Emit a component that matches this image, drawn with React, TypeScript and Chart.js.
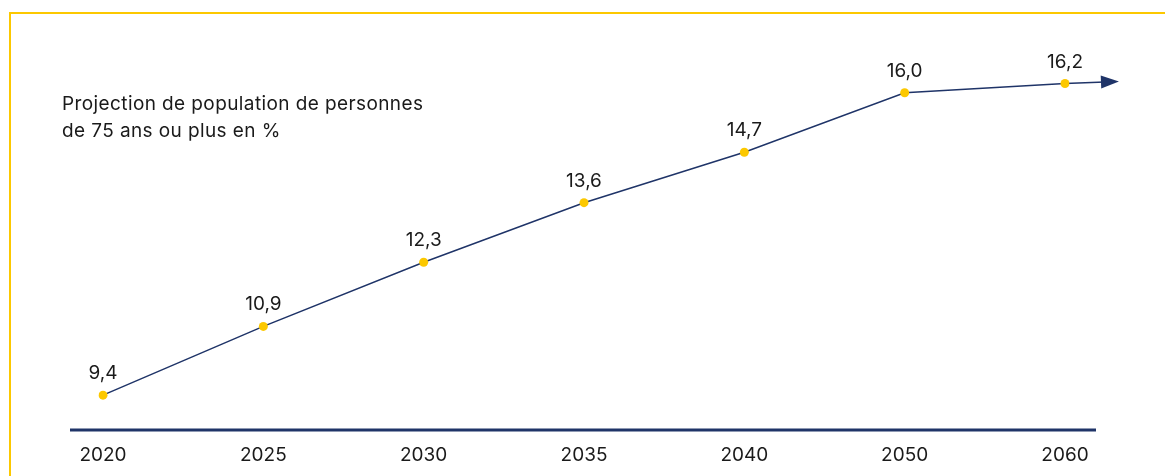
import React, { useEffect, useRef } from "react";
import { Chart, registerables } from "chart.js";

Chart.register(...registerables);

const years: string[] = ["2020", "2025", "2030", "2035", "2040", "2050", "2060"];
const shares: number[] = [9.4, 10.9, 12.3, 13.6, 14.7, 16.0, 16.2];
const titleLines: string[] = [
  "Projection de population de personnes",
  "de 75 ans ou plus en %",
];

const NAVY = "#1f3468";
const YELLOW = "#fcc800";
const TEXT = "#1a1a1a";
const FONT = "Inter, 'Noto Sans', sans-serif";

const fmt = (v: number) => v.toFixed(1).replace(".", ",");

const baselinePlugin = {
  id: "baseline",
  beforeDatasetsDraw(chart: any) {
    const { ctx, chartArea } = chart;
    ctx.save();
    ctx.strokeStyle = NAVY;
    ctx.lineWidth = 3;
    ctx.beginPath();
    ctx.moveTo(chartArea.left - 33, chartArea.bottom);
    ctx.lineTo(chartArea.right + 31, chartArea.bottom);
    ctx.stroke();

    // arrow shaft continuing the last segment
    const pts = chart.getDatasetMeta(0).data;
    const a = pts[pts.length - 2];
    const b = pts[pts.length - 1];
    const dx = b.x - a.x;
    const dy = (b.y - a.y) * 0.7;
    const len = Math.hypot(dx, dy);
    const ux = dx / len;
    const uy = dy / len;
    ctx.strokeStyle = NAVY;
    ctx.lineWidth = 1.5;
    ctx.beginPath();
    ctx.moveTo(b.x, b.y);
    ctx.lineTo(b.x + ux * 40, b.y + uy * 40);
    ctx.stroke();
    const tipX = b.x + ux * 54;
    const tipY = b.y + uy * 54;
    const baseX = b.x + ux * 36;
    const baseY = b.y + uy * 36;
    const px = -uy;
    const py = ux;
    ctx.fillStyle = NAVY;
    ctx.beginPath();
    ctx.moveTo(tipX, tipY);
    ctx.lineTo(baseX + px * 6.5, baseY + py * 6.5);
    ctx.lineTo(baseX - px * 6.5, baseY - py * 6.5);
    ctx.closePath();
    ctx.fill();
    ctx.restore();
  },
};

const labelPlugin = {
  id: "valueLabels",
  afterDatasetsDraw(chart: any) {
    const { ctx } = chart;
    const meta = chart.getDatasetMeta(0);
    ctx.save();
    ctx.fillStyle = TEXT;
    ctx.font = `19px ${FONT}`;
    ctx.textAlign = "center";
    ctx.textBaseline = "alphabetic";
    meta.data.forEach((p: any, i: number) => {
      ctx.fillText(fmt(shares[i]), p.x, p.y - 16);
    });
    ctx.restore();
  },
};

export default function App() {
  const ref = useRef<HTMLCanvasElement | null>(null);

  useEffect(() => {
    if (!ref.current) return;
    const chart = new Chart(ref.current, {
      type: "line",
      data: {
        labels: years,
        datasets: [
          {
            data: shares,
            borderColor: NAVY,
            borderWidth: 1.5,
            pointBackgroundColor: YELLOW,
            pointBorderWidth: 0,
            pointRadius: 4.5,
            tension: 0,
            fill: false,
          },
        ],
      },
      options: {
        animation: false,
        responsive: false,
        maintainAspectRatio: false,
        layout: { padding: { left: 103, right: 100, top: 40, bottom: 10 } },
        plugins: {
          legend: { display: false },
          tooltip: { enabled: false },
          title: { display: false },
        },
        scales: {
          x: {
            type: "category",
            offset: false,
            grid: { display: false, drawTicks: false },
            border: { display: false },
            afterFit: (scale: any) => {
              scale.height = 36;
            },
            ticks: {
              color: TEXT,
              font: { family: FONT, size: 19 },
              padding: 14,
              maxRotation: 0,
              autoSkip: false,
            },
          },
          y: {
            display: false,
            min: 8.64,
            max: 17.15,
          },
        },
      },
      plugins: [baselinePlugin, labelPlugin],
    });
    return () => chart.destroy();
  }, []);

  return (
    <div style={{ position: "absolute", left: 0, top: 0, width: 1165, height: 476, background: "#fff", overflow: "hidden" }}>
      <div
        style={{
          position: "absolute",
          left: 9,
          top: 12,
          width: 1200,
          height: 500,
          borderTop: `2px solid ${YELLOW}`,
          borderLeft: `2px solid ${YELLOW}`,
        }}
      />
      <canvas ref={ref} width={1165} height={476} style={{ position: "absolute", left: 0, top: 0, width: 1165, height: 476 }} />
      <div
        style={{
          position: "absolute",
          left: 62,
          top: 90,
          fontFamily: FONT,
          fontSize: 19,
          letterSpacing: "0.4px",
          lineHeight: "27px",
          color: TEXT,
          whiteSpace: "nowrap",
        }}
      >
        {titleLines.map((l, i) => (
          <div key={i}>{l}</div>
        ))}
      </div>
    </div>
  );
}
